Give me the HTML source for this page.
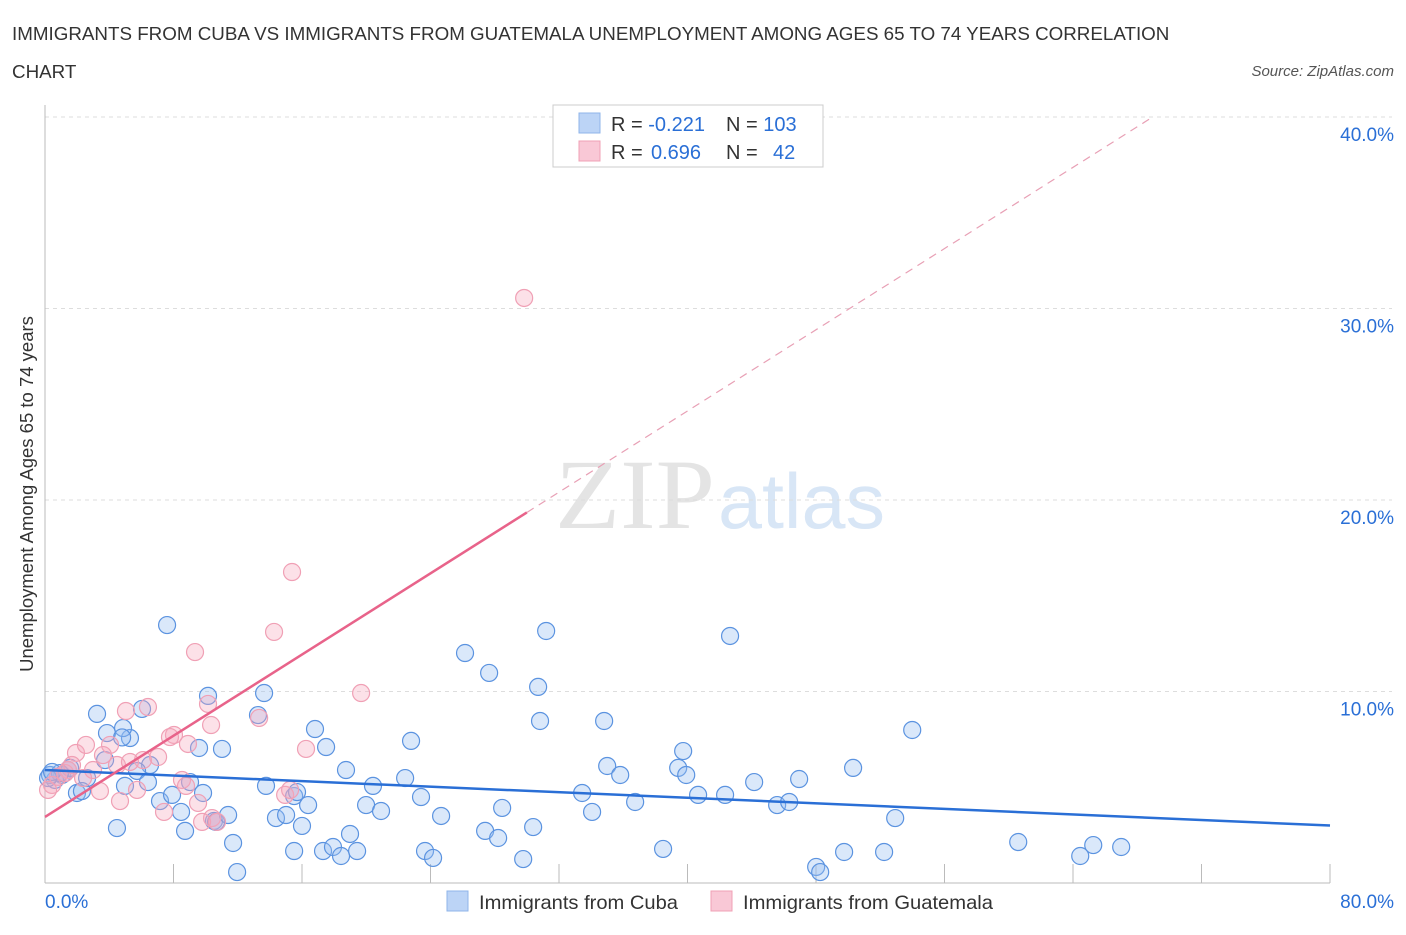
<!DOCTYPE html>
<html><head><meta charset="utf-8"><style>
body{margin:0;background:#fff;width:1406px;height:930px;overflow:hidden;font-family:"Liberation Sans",sans-serif;}
</style></head><body>
<svg id="chart" width="1406" height="930" xmlns="http://www.w3.org/2000/svg" font-family="Liberation Sans, sans-serif">
<text x="12" y="40" font-size="18.8" fill="#333">IMMIGRANTS FROM CUBA VS IMMIGRANTS FROM GUATEMALA UNEMPLOYMENT AMONG AGES 65 TO 74 YEARS CORRELATION</text>
<text x="12" y="78" font-size="18.8" fill="#333">CHART</text>
<text x="1394" y="76" font-size="15" fill="#555" font-style="italic" text-anchor="end">Source: ZipAtlas.com</text>
<text transform="translate(33,494) rotate(-90)" font-size="18.5" fill="#333" text-anchor="middle">Unemployment Among Ages 65 to 74 years</text>
<g>
<text x="555" y="528" font-size="100" fill="#e4e4e4" font-family="Liberation Serif, serif" textLength="160" lengthAdjust="spacingAndGlyphs">ZIP</text>
<text x="718" y="528" font-size="78" fill="#d8e6f6" textLength="167" lengthAdjust="spacingAndGlyphs">atlas</text>
</g>
<g id="grid"></g><g id="axes"></g><g id="pts"></g><g id="lines"></g>
<g>
<rect x="553" y="105" width="270" height="62" fill="#fff" stroke="#ccc"/>
<rect x="579" y="113" width="21" height="20" fill="#bcd4f6" stroke="#8fb4ea"/>
<rect x="579" y="141" width="21" height="20" fill="#f9c8d6" stroke="#f0a0b5"/>
<text x="611" y="131" font-size="20" fill="#333">R = <tspan fill="#2a6fd6">-0.221</tspan></text>
<text x="726" y="131" font-size="20" fill="#333">N = <tspan fill="#2a6fd6">103</tspan></text>
<text x="611" y="159" font-size="20" fill="#333">R = <tspan x="651" fill="#2a6fd6">0.696</tspan></text>
<text x="726" y="159" font-size="20" fill="#333">N = <tspan x="773" fill="#2a6fd6">42</tspan></text>
</g>
<g>
<rect x="447" y="891" width="21" height="20" fill="#bcd4f6" stroke="#8fb4ea"/>
<text x="479" y="909" font-size="19.5" fill="#333" textLength="199" lengthAdjust="spacingAndGlyphs">Immigrants from Cuba</text>
<rect x="711" y="891" width="21" height="20" fill="#f9c8d6" stroke="#f0a0b5"/>
<text x="743" y="909" font-size="19.5" fill="#333" textLength="250" lengthAdjust="spacingAndGlyphs">Immigrants from Guatemala</text>
</g>
</svg>
<script>
const yTicks=[10,20,30,40];
const yTickLabels=["10.0%","20.0%","30.0%","40.0%"];
const xTicks=[8,16,24,32,40,48,56,64,72,80];
const xEndLabels=["0.0%","80.0%"];
const cubaX=[7.60,3.24,3.86,5.29,4.86,10.15,13.64,13.26,6.04,6.54,5.73,2.62,1.99,2.30,4.48,7.16,7.91,8.47,8.72,9.03,9.84,10.52,10.65,11.40,11.96,11.71,9.59,11.02,13.76,14.38,15.01,15.51,15.69,16.38,16.00,15.51,17.31,17.93,18.43,19.43,18.99,16.81,17.50,18.74,20.42,19.99,20.92,22.42,22.79,23.41,24.66,23.66,24.16,27.40,28.46,28.21,29.77,30.39,26.15,27.65,31.20,30.70,30.82,34.81,35.00,35.81,33.44,34.06,36.74,38.48,39.42,39.73,39.92,40.66,42.34,42.65,44.15,45.58,46.33,46.95,48.01,48.26,49.75,50.31,52.24,52.93,53.99,60.59,64.45,65.26,67.00,1.06,0.62,0.31,1.43,1.56,0.93,4.98,3.74,4.80,6.41,0.19,0.44];
const cubaY=[13.47,8.83,7.83,7.57,8.09,9.77,9.92,8.77,9.09,6.16,5.85,5.48,4.70,4.80,2.87,4.28,4.60,3.71,2.72,5.27,4.70,3.24,3.19,3.55,0.57,2.09,7.05,7.00,5.07,3.39,3.55,4.54,4.75,4.07,2.98,1.67,1.67,1.88,1.41,1.67,2.56,8.04,7.10,5.90,5.07,4.07,3.76,5.48,7.42,4.49,3.50,1.67,1.31,2.72,3.92,2.35,1.25,2.92,12.01,10.97,13.16,10.24,8.46,8.46,6.11,5.64,4.70,3.71,4.23,1.78,6.01,6.89,5.64,4.60,4.60,12.90,5.27,4.07,4.23,5.43,0.84,0.57,1.62,6.01,1.62,3.39,7.99,2.14,1.41,1.98,1.88,5.64,5.38,5.64,5.90,6.01,5.74,5.07,6.42,7.60,5.27,5.48,5.80];
const guatX=[29.83,15.38,14.26,9.34,19.68,6.41,5.04,13.33,10.15,10.34,8.03,7.78,8.90,16.25,4.05,1.93,2.55,3.61,2.99,4.48,6.10,5.29,7.04,8.53,8.78,9.53,7.41,10.40,9.78,10.71,4.67,3.42,2.37,0.81,0.44,0.19,1.43,1.25,1.68,14.95,5.73,15.26];
const guatY=[30.55,16.24,13.11,12.06,9.92,9.19,8.98,8.62,9.35,8.25,7.73,7.62,7.26,7.00,7.21,6.79,7.21,6.68,5.90,6.16,6.42,6.32,6.58,5.38,5.07,4.18,3.71,3.39,3.19,3.19,4.28,4.80,5.48,5.54,5.12,4.86,5.90,5.74,6.16,4.60,4.86,4.86];
const cubaTrend=[5.9,3.0];
const guatTrend=[3.45,0.53];
const NS="http://www.w3.org/2000/svg";
const X0=45,X1=1330,Y0=883,Y1=117;
function sx(v){return X0+v/80*(X1-X0);}
function sy(v){return Y0-v/40*(Y0-Y1);}
function mk(tag,attrs,parent){const e=document.createElementNS(NS,tag);for(const k in attrs)e.setAttribute(k,attrs[k]);document.getElementById(parent).appendChild(e);return e;}
yTicks.forEach((t,i)=>{
 const l=mk('line',{x1:X0,x2:1392,y1:sy(t),y2:sy(t),stroke:'#ddd','stroke-dasharray':'4,4'},'grid');
 
 
 const tx=mk('text',{x:1394,y:sy(t)+24,'font-size':19,fill:'#2a6fd6','text-anchor':'end'},'axes');
 tx.textContent=yTickLabels[i];
 
 
});
const ax=mk('line',{x1:X0,x2:X0,y1:105,y2:Y0,stroke:'#bbb'},'axes');


const bx=mk('line',{x1:X0,x2:X1,y1:Y0,y2:Y0,stroke:'#bbb'},'axes');


xTicks.forEach(t=>{
 const l=mk('line',{x1:sx(t),x2:sx(t),y1:Y0,y2:Y0-19,stroke:'#bbb'},'axes');
 
 
});
[[0,'start',X0],[1,'end',1394]].forEach(([i,a,x])=>{
 const tx=mk('text',{x:x,y:908,'font-size':19,fill:'#2a6fd6','text-anchor':a},'axes');
 tx.textContent=xEndLabels[i];
 
 
});
cubaX.forEach((v,i)=>{
 const c=mk('circle',{cx:sx(v),cy:sy(cubaY[i]),r:8.5,fill:'rgba(150,190,240,0.35)',stroke:'#5b93e0','stroke-width':1.2},'pts');
 
 
});
guatX.forEach((v,i)=>{
 const c=mk('circle',{cx:sx(v),cy:sy(guatY[i]),r:8.5,fill:'rgba(245,170,190,0.35)',stroke:'#f0a0b5','stroke-width':1.2},'pts');
 
 
});
const cl=mk('line',{x1:sx(0),y1:sy(cubaTrend[0]),x2:sx(80),y2:sy(cubaTrend[1]),stroke:'#2a6fd6','stroke-width':2.5},'lines');


const gEnd=30, gDash=(40-guatTrend[0])/guatTrend[1];
const gl=mk('line',{x1:sx(0),y1:sy(guatTrend[0]),x2:sx(gEnd),y2:sy(guatTrend[0]+guatTrend[1]*gEnd),stroke:'#e8638a','stroke-width':2.5},'lines');


const gd=mk('line',{x1:sx(gEnd),y1:sy(guatTrend[0]+guatTrend[1]*gEnd),x2:sx(gDash),y2:sy(40),stroke:'#e8a0b5','stroke-width':1.2,'stroke-dasharray':'8,6'},'lines');


</script>
</body></html>
